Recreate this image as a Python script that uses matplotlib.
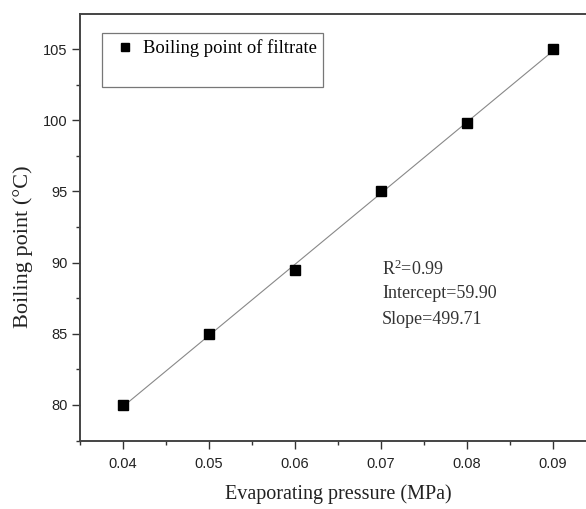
import matplotlib
matplotlib.use("Agg")
import matplotlib.pyplot as plt
from matplotlib.ticker import MultipleLocator, FormatStrFormatter
from matplotlib.patches import Rectangle
import numpy as np

pressure = [0.04, 0.05, 0.06, 0.07, 0.08, 0.09]
boiling = [80.0, 85.0, 89.5, 95.0, 99.8, 105.0]
fit_intercept = 59.90
fit_slope = 499.71
fit_r2 = 0.99
x_ticks = [0.04, 0.05, 0.06, 0.07, 0.08, 0.09]
y_ticks = [80, 85, 90, 95, 100, 105]

plt.rcParams["mathtext.fontset"] = "custom"
plt.rcParams["mathtext.rm"] = "Liberation Serif"
plt.rcParams["mathtext.it"] = "Liberation Serif:italic"

serif = ["Liberation Serif", "DejaVu Serif"]
sans = ["Liberation Sans", "DejaVu Sans"]
W, H = 586, 509

fig = plt.figure(figsize=(5.86, 5.09), dpi=100)
ax = fig.add_axes([80/W, 68/H, 516/W, 427/H])

fit_x = np.array([pressure[0], pressure[-1]])
ax.plot(fit_x, fit_intercept + fit_slope * fit_x, color="#888888", lw=0.8, zorder=2)
ax.plot(pressure, boiling, linestyle="none", marker="s", ms=6.5, color="black",
        label="Boiling point of filtrate", zorder=3)

ax.set_xlim(0.035, 0.095)
ax.set_ylim(77.47, 107.47)
ax.set_xticks(x_ticks)
ax.set_yticks(y_ticks)
ax.xaxis.set_major_formatter(FormatStrFormatter("%.2f"))
ax.xaxis.set_minor_locator(MultipleLocator(0.005))
ax.yaxis.set_minor_locator(MultipleLocator(2.5))
ax.tick_params(which="major", direction="out", length=5.5, width=1.0, color="#333333",
               labelsize=10.5)
ax.tick_params(axis="x", which="major", pad=6)
ax.tick_params(which="minor", direction="out", length=3, width=1.0, color="#333333")
for lab in ax.get_xticklabels() + ax.get_yticklabels():
    lab.set_fontfamily(sans)
    lab.set_color("#222222")

for s in ["left", "top", "bottom"]:
    ax.spines[s].set_color("#444444")
    ax.spines[s].set_linewidth(1.4)
ax.spines["right"].set_visible(False)

fig.text(338/W, 1 - 494/H, "Evaporating pressure (MPa)", family=serif, fontsize=14.5,
         ha="center", va="center", color="#222222")
fig.text(23/W, 1 - 247/H, "Boiling point (\u00b0C)", family=serif, fontsize=16,
         ha="center", va="center", rotation=90, color="#222222")

# legend frame and entry
frame = Rectangle((102/W, 1 - 87/H), 221/W, 54/H, transform=fig.transFigure,
                  facecolor="white", edgecolor="#777777", lw=0.9, zorder=4, clip_on=False)
ax.add_patch(frame)
leg = ax.legend(loc="center left", bbox_to_anchor=((116 - 80)/516, 1 - (48.5 - 14)/427),
                prop={"family": serif, "size": 13.4}, frameon=False,
                handletextpad=0.45, borderaxespad=0, borderpad=0, handlelength=1.0,
                markerscale=0.85)
leg.set_zorder(5)

ax.text(382/W, 1 - 269/H, "R$^2$=%.2f" % fit_r2, transform=fig.transFigure,
        family=serif, fontsize=13, va="center", ha="left", color="#333333")
ax.text(382/W, 1 - 294/H, "Intercept=%.2f" % fit_intercept, transform=fig.transFigure,
        family=serif, fontsize=13, va="center", ha="left", color="#333333")
ax.text(382/W, 1 - 319/H, "Slope=%.2f" % fit_slope, transform=fig.transFigure,
        family=serif, fontsize=13, va="center", ha="left", color="#333333")

fig.savefig("out.png", dpi=100)
